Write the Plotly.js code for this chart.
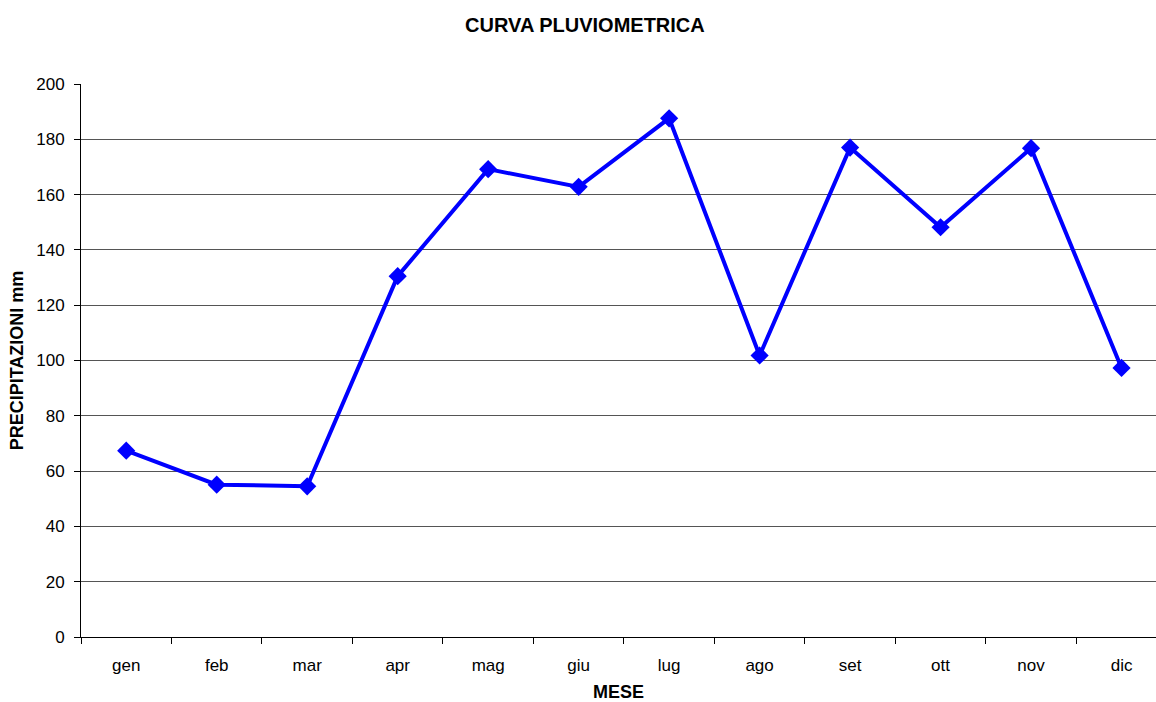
<!DOCTYPE html>
<html>
<head>
<meta charset="utf-8">
<script src="https://cdn.plot.ly/plotly-3.0.1.min.js"></script>
<style>html,body{margin:0;padding:0;background:#fff;}#chart{width:1156px;height:702px;}</style>
</head>
<body>
<div id="chart"></div>
<script>
const months = ["gen","feb","mar","apr","mag","giu","lug","ago","set","ott","nov","dic"];
const precipitation = [67.4, 55.1, 54.5, 130.5, 169.2, 162.8, 187.6, 101.8, 177.0, 148.2, 176.8, 97.3];
const chartTitle = "CURVA PLUVIOMETRICA";
const xTitle = "MESE";
const yTitle = "PRECIPITAZIONI mm";

const font = "Liberation Sans, Arial, sans-serif";
const trace = {
  x: months,
  y: precipitation,
  type: "scatter",
  mode: "lines+markers",
  line: {color: "#0000ff", width: 4},
  marker: {symbol: "diamond", size: 14, color: "#0000ff"},
  hoverinfo: "x+y"
};
const layout = {
  width: 1156, height: 702,
  margin: {l: 81, r: 0, t: 83.5, b: 64.5},
  paper_bgcolor: "#fff", plot_bgcolor: "#fff",
  showlegend: false,
  font: {family: font, size: 17, color: "#000"},
  title: {text: "<b>" + chartTitle + "</b>", font: {family: font, size: 20, color: "#000"}, x: 0.506, xref: "container", xanchor: "center", y: 0.964, yref: "container", yanchor: "middle"},
  xaxis: {
    type: "category",
    range: [-0.5, 11.381],
    showline: true, linecolor: "#000", linewidth: 1,
    ticks: "outside", tickson: "boundaries", ticklen: 6, tickcolor: "#000",
    ticklabelstandoff: 13,
    showgrid: false, zeroline: false,
    tickfont: {family: font, size: 17, color: "#000"},
    title: {text: "<b>" + xTitle + "</b>", font: {family: font, size: 18, color: "#000"}, standoff: 11}
  },
  yaxis: {
    range: [0, 200], dtick: 20,
    showline: true, linecolor: "#000", linewidth: 1,
    ticks: "outside", ticklen: 6, tickcolor: "#000",
    ticklabelstandoff: 6,
    showgrid: true, gridcolor: "#555", gridwidth: 1,
    zeroline: false,
    tickfont: {family: font, size: 17, color: "#000"},
    title: {text: "<b>" + yTitle + "</b>", font: {family: font, size: 18, color: "#000"}, standoff: 7}
  }
};
Plotly.newPlot("chart", [trace], layout, {displayModeBar: false, staticPlot: true});
</script>
</body>
</html>
